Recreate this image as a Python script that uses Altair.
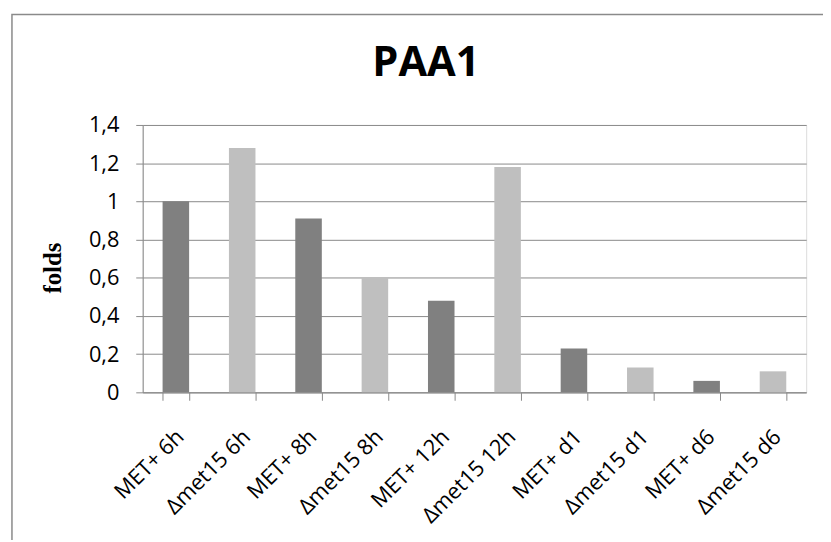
import altair as alt
import pandas as pd

categories = ["MET+ 6h", "Δmet15 6h", "MET+ 8h", "Δmet15 8h", "MET+ 12h",
              "Δmet15 12h", "MET+ d1", "Δmet15 d1", "MET+ d6", "Δmet15 d6"]
values = [1.0, 1.28, 0.91, 0.60, 0.48, 1.18, 0.23, 0.13, 0.06, 0.11]
strains = ["MET+", "Δmet15"] * 5
y_ticks = [0, 0.2, 0.4, 0.6, 0.8, 1.0, 1.2, 1.4]

df = pd.DataFrame({"condition": categories, "folds": values, "strain": strains})

GRAY = "#898989"
LABEL_FONT = "Open Sans"

bars = alt.Chart(df).mark_bar().encode(
    x=alt.X(
        "condition:N",
        sort=categories,
        scale=alt.Scale(paddingInner=0.6, paddingOuter=0.3),
        axis=alt.Axis(
            title=None,
            labelAngle=-45,
            labelFont=LABEL_FONT,
            labelFontSize=22,
            labelColor="black",
            labelPadding=26,
            labelOffset=-3,
            tickBand="extent",
            tickSize=8,
            tickColor=GRAY,
            domainColor=GRAY,
            grid=False,
        ),
    ),
    y=alt.Y(
        "folds:Q",
        scale=alt.Scale(domain=[0, 1.4], nice=False, zero=True),
        axis=alt.Axis(
            values=y_ticks,
            labelExpr="replace(format(datum.value, '~g'), '.', ',')",
            labelFont=LABEL_FONT,
            labelFontSize=22,
            labelColor="black",
            labelPadding=17,
            tickSize=7,
            tickColor=GRAY,
            domainColor=GRAY,
            grid=True,
            gridColor=GRAY,
            title="folds",
            titleFont="Liberation Serif",
            titleFontSize=25,
            titleFontWeight="bold",
            titleColor="black",
            titleAngle=-90,
            titleX=-83,
            titleY=144,
            titleAlign="center",
            titleBaseline="alphabetic",
        ),
    ),
    color=alt.Color(
        "strain:N",
        scale=alt.Scale(domain=["MET+", "Δmet15"], range=["#808080", "#BFBFBF"]),
        legend=None,
    ),
)

border = alt.Chart(alt.Data(values=[{}])).mark_rect(
    fill="transparent", stroke="#8a8a8a", strokeWidth=1.5
).encode(
    x=alt.value(-132), x2=alt.value(700), y=alt.value(-111.5), y2=alt.value(460)
)

chart = alt.layer(border, bars).properties(
    width=670,
    height=270,
    padding={"left": 136, "top": 115.5, "right": 17, "bottom": 146},
    autosize=alt.AutoSizeParams(type="none"),
    title=alt.TitleParams(
        "PAA1",
        font=LABEL_FONT,
        fontSize=42,
        fontWeight="bold",
        color="black",
        anchor="middle",
        frame="group",
        baseline="alphabetic",
        offset=-104.5,
        dx=-49,
    ),
).configure_view(strokeWidth=0).configure(background="white")

chart.save("out.html", embed_options={"renderer": "svg", "actions": False})
